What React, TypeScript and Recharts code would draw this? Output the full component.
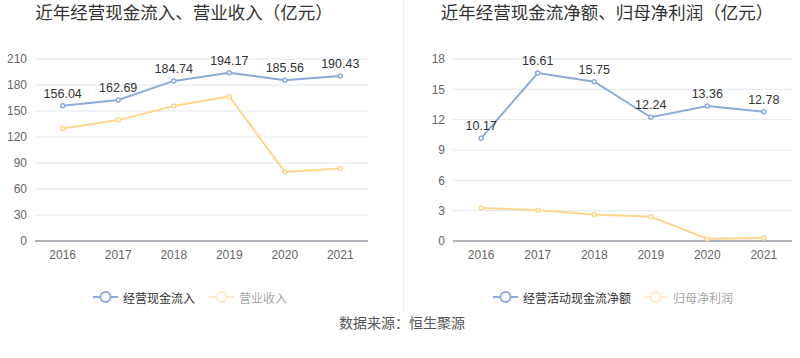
import {
  CartesianGrid,
  LabelList,
  Legend,
  Line,
  LineChart,
  XAxis,
  YAxis,
} from "recharts";

const years = ["2016", "2017", "2018", "2019", "2020", "2021"];

// left chart
const cashInflow = [156.04, 162.69, 184.74, 194.17, 185.56, 190.43];
const revenue = [129.8, 139.5, 155.7, 166.8, 79.7, 83.6];
const leftTicks = [0, 30, 60, 90, 120, 150, 180, 210];

// right chart
const netCashFlow = [10.17, 16.61, 15.75, 12.24, 13.36, 12.78];
const netProfit = [3.27, 3.04, 2.61, 2.41, 0.23, 0.3];
const rightTicks = [0, 3, 6, 9, 12, 15, 18];

const BLUE = "#8eaadc";
const ORANGE = "#ffd68e";
const FONT = "'Liberation Sans', Arial, 'Noto Sans CJK SC', sans-serif";

const leftData = years.map((year, i) => ({
  year,
  a: cashInflow[i],
  b: revenue[i],
}));

const rightData = years.map((year, i) => ({
  year,
  a: netCashFlow[i],
  b: netProfit[i],
}));

function LegendBox({ names, gap }: any) {
  const colors = [BLUE, ORANGE];
  return (
    <div style={{ display: "flex", alignItems: "center", height: 20, fontFamily: FONT }}>
      {names.map((n: string, i: number) => (
        <div
          key={n}
          style={{
            display: "flex",
            alignItems: "center",
            opacity: i === 0 ? 1 : 0.45,
            marginRight: gap,
          }}
        >
          <svg width={25} height={14}>
            <line x1={0} y1={7} x2={25} y2={7} stroke={colors[i]} strokeWidth={2} />
            <circle cx={12.5} cy={7} r={5} fill="#fff" stroke={colors[i]} strokeWidth={2} />
          </svg>
          <span style={{ fontSize: 12, color: "#333", marginLeft: 5 }}>{n}</span>
        </div>
      ))}
    </div>
  );
}

function Panel({ data, domain, ticks, yWidth, right, pad, names, legendLeft, gap }: any) {
  return (
    <LineChart
      width={400}
      height={310}
      data={data}
      margin={{ top: 59, right, left: 0, bottom: 3 }}
      style={{ fontFamily: FONT }}
    >
      <CartesianGrid vertical={false} stroke="#e0e6f1" />
      <XAxis
        dataKey="year"
        height={46}
        interval={0}
        padding={{ left: pad, right: pad }}
        stroke="#6e7079"
        tickLine={false}
        tickMargin={3}
        tick={{ fill: "#666", fontSize: 12 }}
      />
      <YAxis
        width={yWidth}
        domain={domain}
        ticks={ticks}
        interval={0}
        axisLine={false}
        tickLine={false}
        tick={{ fill: "#666", fontSize: 12 }}
      />
      <Legend
        verticalAlign="bottom"
        wrapperStyle={{ left: legendLeft, width: 320 }}
        content={() => <LegendBox names={names} gap={gap} />}
      />
      <Line
        dataKey="a"
        name={names[0]}
        stroke={BLUE}
        strokeWidth={2}
        dot={{ r: 2, fill: "#fff", stroke: BLUE, strokeWidth: 1.5 }}
        isAnimationActive={false}
      >
        <LabelList dataKey="a" position="top" offset={8} fill="#333" fontSize={12.5} />
      </Line>
      <Line
        dataKey="b"
        name={names[1]}
        stroke={ORANGE}
        strokeWidth={2}
        dot={{ r: 2, fill: "#fff", stroke: ORANGE, strokeWidth: 1.5 }}
        isAnimationActive={false}
      />
    </LineChart>
  );
}

const titleStyle: any = {
  position: "absolute",
  top: 3,
  width: 400,
  textAlign: "center",
  fontSize: 17.5,
  lineHeight: "20px",
  color: "#333",
  fontFamily: FONT,
};

export default function App() {
  return (
    <div
      style={{
        position: "absolute",
        left: 0,
        top: 0,
        width: 800,
        height: 358,
        background: "#fff",
        overflow: "hidden",
      }}
    >
      <div style={{ ...titleStyle, left: -16 }}>近年经营现金流入、营业收入（亿元）</div>
      <div style={{ ...titleStyle, left: 407 }}>近年经营现金流净额、归母净利润（亿元）</div>
      <div style={{ position: "absolute", left: 0, top: 0 }}>
        <Panel
          data={leftData}
          domain={[0, 210]}
          ticks={leftTicks}
          yWidth={35}
          right={32}
          pad={27.7}
          names={["经营现金流入", "营业收入"]}
          legendLeft={93}
          gap={14}
        />
      </div>
      <div style={{ position: "absolute", left: 403, top: 0, width: 1, height: 310, background: "#eee" }} />
      <div style={{ position: "absolute", left: 400, top: 0 }}>
        <Panel
          data={rightData}
          domain={[0, 18]}
          ticks={rightTicks}
          yWidth={53}
          right={8}
          pad={28.2}
          names={["经营活动现金流净额", "归母净利润"]}
          legendLeft={93}
          gap={12}
        />
      </div>
      <div
        style={{
          position: "absolute",
          left: 202,
          top: 313,
          width: 400,
          textAlign: "center",
          fontSize: 14,
          lineHeight: "20px",
          color: "#555",
          fontFamily: FONT,
        }}
      >
        数据来源：恒生聚源
      </div>
    </div>
  );
}
